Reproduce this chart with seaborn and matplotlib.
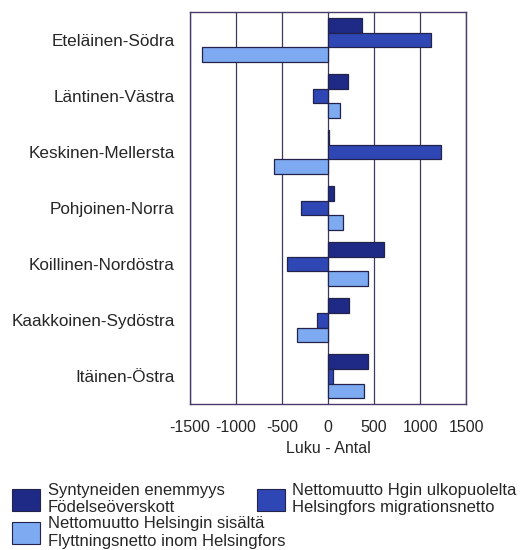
import numpy as np
import pandas as pd
import matplotlib
matplotlib.use('Agg')
import matplotlib.pyplot as plt
from matplotlib.patches import Patch
from matplotlib.ticker import MultipleLocator
import seaborn as sns

# Data
regions = ['Eteläinen-Södra', 'Läntinen-Västra', 'Keskinen-Mellersta', 'Pohjoinen-Norra',
           'Koillinen-Nordöstra', 'Kaakkoinen-Sydöstra', 'Itäinen-Östra']
birth_surplus = [365, 220, 10, 65, 610, 225, 435]
net_outside = [1115, -160, 1230, -290, -450, -125, 50]
net_within = [-1370, 130, -590, 160, 430, -340, 385]

series = ['Syntyneiden enemmyys\nFödelseöverskott',
          'Nettomuutto Hgin ulkopuolelta\nHelsingfors migrationsnetto',
          'Nettomuutto Helsingin sisältä\nFlyttningsnetto inom Helsingfors']
colors = ['#1e2a86', '#2f47b4', '#7eaaf2']

df = pd.DataFrame({
    'Region': regions * 3,
    'Series': [series[0]] * 7 + [series[1]] * 7 + [series[2]] * 7,
    'Value': birth_surplus + net_outside + net_within,
})

sns.set_style('white')
plt.rcParams['font.family'] = ['Liberation Sans', 'DejaVu Sans']

fig = plt.figure(figsize=(5.28, 5.5), dpi=100)
ax = fig.add_axes([0.36, 0.265, 0.523, 0.713])

sns.barplot(data=df, y='Region', x='Value', hue='Series', order=regions,
            hue_order=series, palette=colors, saturation=1, orient='h', width=0.78,
            edgecolor='#22224a', linewidth=0.9, ax=ax, legend=False)

ax.set_xlim(-1500, 1500)
ax.xaxis.set_minor_locator(MultipleLocator(250))
ax.set_xticks(np.arange(-1500, 1501, 500))
ax.set_xticklabels([str(v) for v in range(-1500, 1501, 500)], fontsize=11.5)
ax.tick_params(axis='x', which='major', direction='out', length=6, color='#3a3a60', pad=5)
ax.tick_params(axis='x', which='minor', direction='out', length=3, color='#3a3a60')
ax.tick_params(axis='y', direction='out', length=6, color='#3a3a60', labelsize=12.3, pad=5)
ax.grid(axis='x', color='#3a3a60', linewidth=0.9)
ax.set_axisbelow(True)
for s in ax.spines.values():
    s.set_color('#4a3a6a')
    s.set_linewidth(1.0)

ax.set_xlabel('Luku - Antal', fontsize=11.5, labelpad=5)
ax.set_ylabel('')

# legend: dark + light stacked on the left, medium on its own to the right
leg_kw = dict(loc='upper left', frameon=False, fontsize=12, handlelength=1.7,
              handleheight=1.7, handletextpad=0.45, labelspacing=0.05, borderaxespad=0.3)
h = [Patch(facecolor=c, edgecolor='#22224a', linewidth=0.8) for c in colors]
fig.legend([h[0], h[2]], [series[0], series[2]], bbox_to_anchor=(0.0, 0.143), **leg_kw)
fig.legend([h[1]], [series[1]], bbox_to_anchor=(0.464, 0.143), **leg_kw)

fig.savefig('out.png', dpi=100)
